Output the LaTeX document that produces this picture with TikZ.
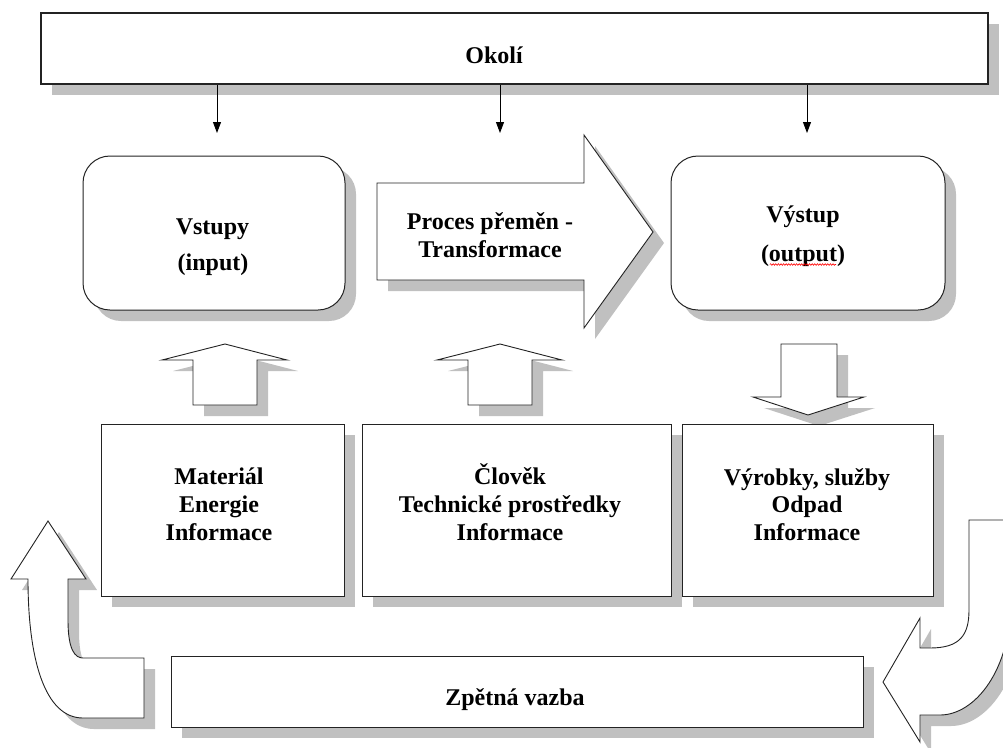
\documentclass[tikz,border=0pt]{standalone}
\usepackage{fontspec}
\setmainfont{Liberation Serif}
\usetikzlibrary{arrows.meta,shadows,decorations.pathmorphing}
\definecolor{shade}{RGB}{192,192,192}
\definecolor{edge}{RGB}{35,35,35}

\begin{document}
\begin{tikzpicture}[x=1pt,y=-1pt,
  lbl/.style={font=\bfseries\fontsize{24}{28}\selectfont, inner sep=0pt, anchor=base},
  boxshadow/.style={drop shadow={shadow xshift=11pt, shadow yshift=-11pt, fill=shade, opacity=1}},
  plainbox/.style={draw=edge, line width=1pt, fill=white, inner sep=0pt, boxshadow},
  roundbox/.style={plainbox, rounded corners=27pt},
  blockarrow/.style={draw=edge, line width=0.9pt, fill=white, line join=miter, boxshadow},
  feed/.style={draw=black, line width=0.9pt, -{Triangle[length=11pt,width=8pt]}},
  spell/.style={draw=red, line width=0.6pt, decorate,
    decoration={snake, amplitude=0.8pt, segment length=2.6pt}}]

\useasboundingbox (0,0) rectangle (1003,747);
\begin{scope}
\clip (0,0) rectangle (1003,747);

% surroundings
\node[plainbox, line width=1.8pt, minimum width=947pt, minimum height=71pt] (okoli) at (514.5,48.5) {};
\node[lbl] (okolit) at (494,63) {Okolí};

% arrows from the surroundings
\coordinate (d1) at (217,133);
\coordinate (d2) at (500,133);
\coordinate (d3) at (807,133);
\draw[feed] (okoli.south -| d1) -- (d1);
\draw[feed] (okoli.south -| d2) -- (d2);
\draw[feed] (okoli.south -| d3) -- (d3);

% inputs and outputs
\node[roundbox, minimum width=262pt, minimum height=154pt] (inp) at (214,233) {};
\node[lbl] (inpa) at (212.5,234) {Vstupy};
\node[lbl] (inpb) at (213,270) {(input)};

\node[roundbox, minimum width=274pt, minimum height=154pt] (outp) at (808,233) {};
\node[lbl] (outa) at (803,222) {Výstup};
\node[lbl] (outb) at (803,261) {(output)};
\draw[spell] ([shift={(9,3.5)}]outb.base west) -- ([shift={(-9,3.5)}]outb.base east);

% transformation arrow
\path[blockarrow] (377,183) -- (584,183) -- (584,135) -- (653,232) -- (584,328)
  -- (584,280) -- (377,280) -- cycle;
\node[lbl] (proca) at (490,229) {Proces přeměn -};
\node[lbl] (procb) at (490,257) {Transformace};

% block arrows between the rows
\path[blockarrow] (193,405) -- (193,360) -- (162,360) -- (225,344) -- (287,360)
  -- (257,360) -- (257,405) -- cycle;
\path[blockarrow] (468,405) -- (468,360) -- (437,360) -- (500,344) -- (562,360)
  -- (532,360) -- (532,405) -- cycle;
\path[blockarrow] (781,344) -- (837,344) -- (837,397) -- (864,397) -- (808,415)
  -- (753,397) -- (781,397) -- cycle;

% resources
\node[plainbox, minimum width=243pt, minimum height=172pt] (res1) at (222.5,510) {};
\node[lbl] (res1a) at (219,484) {Materiál};
\node[lbl] (res1b) at (219,512) {Energie};
\node[lbl] (res1c) at (219,540) {Informace};

\node[plainbox, minimum width=309pt, minimum height=172pt] (res2) at (516.5,510) {};
\node[lbl] (res2a) at (510,484) {Člověk};
\node[lbl] (res2b) at (510,512) {Technické prostředky};
\node[lbl] (res2c) at (510,540) {Informace};

\node[plainbox, minimum width=251pt, minimum height=172pt] (res3) at (807.5,510) {};
\node[lbl] (res3a) at (807,485) {Výrobky, služby};
\node[lbl] (res3b) at (807,512) {Odpad};
\node[lbl] (res3c) at (807,540) {Informace};

% feedback loop
\path[blockarrow] (48,521) -- (86,579) -- (68,579) -- (68,620)
  .. controls (68,650) and (75,658) .. (83,658) -- (144,658) -- (144,718) -- (83,718)
  .. controls (45,718) and (28,660) .. (28,579) -- (11,579) -- cycle;
\path[blockarrow] (969,520) -- (1011,520) -- (1011,600)
  .. controls (1011,670) and (975,715) .. (940,715) -- (920,715) -- (920,742)
  -- (883,682) -- (920,618) -- (920,648) -- (930,648)
  .. controls (960,648) and (969,635) .. (969,610) -- cycle;

\node[plainbox, minimum width=692pt, minimum height=71pt] (zpet) at (517,691.5) {};
\node[lbl] (zpett) at (515,705) {Zpětná vazba};
\end{scope}
\end{tikzpicture}
\end{document}
